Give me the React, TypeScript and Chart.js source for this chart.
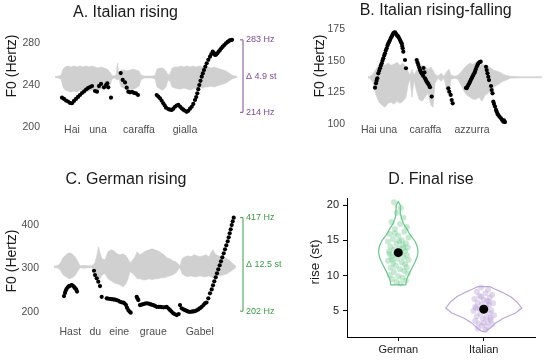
import React, { useEffect, useRef } from "react";
import { Chart, registerables } from "chart.js";
Chart.register(...registerables);

const FONT = "'Liberation Sans', Arial, Helvetica, sans-serif";
Chart.defaults.font.family = FONT;

// ---------------- Panel A: Italian rising ----------------
const A_TITLE = "A. Italian rising";
const A_TICKS = [200, 240, 280];
const A_F0: [number, number][] = [
  [0.12, 227.9], [0.14, 226.7], [0.16, 225.2], [0.18, 224.3], [0.2, 222.9], [0.22, 222.6], [0.24, 224.8],
  [0.26, 226.7], [0.28, 228.6], [0.3, 230.5], [0.32, 232.4], [0.34, 233.8], [0.36, 235.7], [0.38, 237.1],
  [0.4, 238.1], [0.42, 239], [0.45, 234.3], [0.47, 233.6], [0.49, 239], [0.51, 241], [0.54, 237.8],
  [0.56, 240], [0.573, 241.6], [0.583, 237.8], [0.61, 227.9],
  [0.707, 251.4], [0.727, 244.8], [0.75, 242.5], [0.767, 237.5], [0.783, 233.6], [0.8, 233], [0.82, 233.5],
  [0.84, 232.5], [0.86, 232], [0.88, 230.5],
  [1.067, 230.5], [1.083, 229], [1.1, 227.3], [1.117, 225], [1.133, 222.6], [1.147, 220.5], [1.16, 218.4],
  [1.183, 217.1], [1.2, 216.5], [1.217, 216.2], [1.233, 217.5], [1.25, 219.3], [1.267, 220.5], [1.283, 221],
  [1.3, 219.5], [1.317, 217.8], [1.333, 216.5], [1.35, 215.5], [1.367, 214.5], [1.383, 215.5], [1.4, 217.5],
  [1.417, 219.3], [1.433, 222], [1.45, 225.7], [1.462, 228.5], [1.473, 232.1], [1.483, 236], [1.493, 240],
  [1.505, 244], [1.517, 247.9], [1.528, 251], [1.54, 254.3], [1.553, 257.5], [1.567, 260.7], [1.583, 264],
  [1.6, 267], [1.613, 269.5], [1.627, 271.7], [1.64, 270.5], [1.65, 268.6], [1.662, 269], [1.673, 270.2],
  [1.687, 271.8], [1.7, 273.3], [1.713, 275], [1.727, 276.5], [1.743, 278], [1.76, 279.7], [1.777, 281],
  [1.793, 282.2], [1.807, 282.8], [1.82, 283]
];
const A_WAVE_T = [0.05, 0.08, 0.11, 0.13, 0.15, 0.18, 0.21, 0.24, 0.27, 0.3, 0.33, 0.36, 0.39, 0.42, 0.45, 0.48, 0.51, 0.54, 0.57, 0.6, 0.62, 0.64, 0.66, 0.675, 0.69, 0.71, 0.74, 0.77, 0.8, 0.83, 0.86, 0.89, 0.91, 0.94, 0.98, 1.02, 1.05, 1.07, 1.1, 1.13, 1.16, 1.18, 1.2, 1.22, 1.25, 1.28, 1.31, 1.34, 1.37, 1.4, 1.43, 1.46, 1.49, 1.52, 1.55, 1.58, 1.61, 1.64, 1.67, 1.7, 1.73, 1.76, 1.79, 1.82, 1.85, 1.87];
const A_WAVE_UP = [0.5, 1, 1.5, 8, 10, 11, 10, 11, 10, 11, 10, 11, 10, 11, 10, 9, 10, 9, 8, 5, 1.5, 1, 2, 14, 2, 7, 7, 6, 7, 8, 7, 6, 2, 1, 1, 1, 1.5, 8, 9, 9, 6, 2, 3, 9, 10, 10, 11, 10, 11, 10, 11, 10, 11, 10, 11, 10, 9, 10, 9, 8, 7, 6, 4, 2, 1, 0.5];
const A_WAVE_DN = [0.5, 1, 2, 10, 13, 14, 15, 14, 15, 13, 14, 15, 14, 13, 14, 13, 12, 12, 11, 8, 2, 1, 2, 3, 2, 10, 11, 12, 12, 12, 11, 9, 3, 1, 1, 1, 2, 10, 12, 13, 10, 3, 4, 10, 11, 12, 12, 11, 12, 13, 12, 11, 10, 11, 10, 10, 9, 10, 9, 8, 7, 6, 4, 2, 1, 0.5];
const A_WORDS = ["Hai", "una", "caraffa", "gialla"];
const A_WORD_T = [0.22, 0.48, 0.89, 1.35];
const A_RANGE = [214, 283];
const A_RANGE_LABELS = ["214 Hz", "Δ 4.9 st", "283 Hz"];

// ---------------- Panel B: Italian rising-falling ----------------
const B_TITLE = "B. Italian rising-falling";
const B_TICKS = [100, 125, 150, 175];
const B_F0: [number, number][] = [
  [0.2, 128.7], [0.21, 132.1], [0.216, 134.2], [0.223, 136.1], [0.233, 140], [0.242, 142], [0.25, 144],
  [0.258, 146], [0.267, 147.9], [0.275, 150], [0.283, 151.9], [0.292, 154], [0.3, 155.8], [0.308, 158],
  [0.317, 159.8], [0.325, 162], [0.333, 163.7], [0.342, 165], [0.35, 166.3], [0.358, 167.8], [0.367, 168.9],
  [0.375, 170.3], [0.383, 171.6], [0.392, 172.2], [0.4, 172.4], [0.408, 171.4], [0.417, 170.3], [0.425, 169.5],
  [0.433, 168.9], [0.442, 167.6], [0.45, 166.3], [0.458, 165], [0.467, 163.7], [0.472, 161.6], [0.477, 159.8],
  [0.483, 157.1], [0.5, 150.5], [0.51, 144],
  [0.617, 150.5], [0.625, 148.5], [0.633, 146.6], [0.642, 144.6], [0.65, 142.6], [0.658, 141.2], [0.667, 140],
  [0.675, 139], [0.683, 137.9], [0.685, 144.2], [0.695, 140.7], [0.7, 136.1], [0.708, 134.8], [0.717, 133.4],
  [0.725, 132.5], [0.733, 131.6], [0.742, 130.3], [0.75, 129], [0.767, 121.6],
  [0.933, 128.2], [0.943, 125.5], [0.957, 122.9], [0.967, 118.9], [0.977, 116.3],
  [1.11, 128.5], [1.117, 128.2], [1.125, 129.5], [1.133, 130.8], [1.142, 132], [1.15, 133.4], [1.158, 134.8],
  [1.167, 136.1], [1.175, 137.4], [1.183, 138.7], [1.192, 140], [1.2, 141.3], [1.208, 143.3], [1.217, 145.2],
  [1.225, 146.6], [1.233, 147.9], [1.245, 148.8], [1.257, 149.2],
  [1.31, 145.2], [1.317, 142.6], [1.325, 140], [1.333, 137.3], [1.34, 134.7], [1.36, 130], [1.367, 126.8],
  [1.375, 124.2], [1.383, 117.6], [1.39, 115.8], [1.4, 113.7], [1.41, 111.1], [1.417, 109.7], [1.425, 107.9],
  [1.433, 107.1], [1.445, 105.8], [1.46, 104.5], [1.47, 103.2], [1.483, 101.8], [1.49, 102.8], [1.5, 101.5]
];
const B_WAVE_T = [0.13, 0.15, 0.18, 0.21, 0.24, 0.27, 0.3, 0.33, 0.36, 0.39, 0.42, 0.45, 0.48, 0.51, 0.53, 0.55, 0.57, 0.59, 0.61, 0.64, 0.67, 0.7, 0.73, 0.76, 0.78, 0.8, 0.83, 0.86, 0.89, 0.92, 0.94, 0.96, 1.0, 1.03, 1.06, 1.09, 1.12, 1.15, 1.18, 1.21, 1.24, 1.27, 1.3, 1.33, 1.36, 1.39, 1.42, 1.45, 1.48, 1.51, 1.55, 1.65, 1.87];
const B_WAVE_UP = [0.6, 1, 3, 8, 12, 13, 12, 14, 12, 13, 15, 12, 14, 10, 6, 2, 8, 2, 6, 10, 12, 11, 8, 10, 7, 3, 1, 4, 1, 6, 8, 2, 1, 2, 5, 9, 12, 14, 13, 15, 12, 13, 12, 11, 9, 7, 6, 5, 3, 2, 1, 0.6, 0.6];
const B_WAVE_DN = [0.6, 1, 5, 18, 25, 28, 30, 26, 25, 27, 24, 26, 24, 20, 8, 2, 20, 3, 12, 22, 24, 20, 16, 28, 30, 6, 1, 4, 1, 14, 18, 2, 1, 2, 8, 14, 18, 20, 22, 22, 20, 24, 18, 16, 14, 10, 8, 6, 4, 3, 1, 0.6, 0.6];
const B_WORDS = ["Hai una", "caraffa", "azzurra"];
const B_WORD_T = [0.24, 0.705, 1.17];

// ---------------- Panel C: German rising ----------------
const C_TITLE = "C. German rising";
const C_TICKS = [200, 300, 400];
const C_F0: [number, number][] = [
  [0.14, 236.8], [0.15, 244], [0.157, 249], [0.165, 253], [0.177, 256.8], [0.19, 259.5], [0.2, 260.5],
  [0.215, 262], [0.227, 261], [0.24, 258], [0.25, 255], [0.262, 252], [0.27, 247],
  [0.44, 295], [0.45, 285], [0.467, 277.5], [0.483, 269.7], [0.5, 259.8], [0.517, 235],
  [0.567, 231.5], [0.58, 231], [0.6, 230], [0.615, 229.5], [0.633, 229], [0.65, 228.5], [0.667, 227.6],
  [0.685, 226], [0.7, 223.7], [0.715, 222.5], [0.733, 221.5], [0.745, 220], [0.76, 216], [0.77, 210],
  [0.783, 204.6], [0.795, 201], [0.807, 198.5],
  [0.867, 235], [0.875, 231], [0.883, 227.6], [0.9, 216], [0.915, 217], [0.933, 218.4], [0.95, 219.5],
  [0.967, 220], [0.985, 219.5], [1.0, 218.4], [1.015, 217], [1.033, 216], [1.05, 214], [1.067, 212],
  [1.085, 212], [1.1, 212], [1.115, 211.5], [1.133, 210.8], [1.15, 211], [1.167, 212], [1.185, 208],
  [1.2, 204.6], [1.215, 201], [1.233, 197], [1.25, 195], [1.267, 193], [1.287, 195.4],
  [1.3, 216], [1.317, 208.5], [1.335, 206], [1.35, 204.6], [1.367, 202.5], [1.383, 200.8], [1.4, 200.5],
  [1.417, 200.8], [1.433, 201.5], [1.45, 202.3], [1.467, 204], [1.483, 206], [1.5, 209], [1.517, 212],
  [1.535, 216], [1.55, 220], [1.565, 222],
  [1.583, 231.5], [1.6, 243], [1.617, 252], [1.63, 261.4], [1.643, 270.6], [1.657, 279.8], [1.67, 289],
  [1.683, 298.2], [1.697, 307.4], [1.71, 316.6], [1.723, 325.7], [1.737, 334.9], [1.75, 344.1],
  [1.763, 353.3], [1.777, 362.5], [1.787, 371.7], [1.797, 380.9], [1.807, 390.1], [1.817, 400],
  [1.827, 408.5], [1.837, 417]
];
const C_WAVE_T = [0.04, 0.07, 0.1, 0.13, 0.16, 0.19, 0.22, 0.25, 0.28, 0.3, 0.34, 0.38, 0.42, 0.45, 0.47, 0.485, 0.5, 0.52, 0.55, 0.58, 0.61, 0.64, 0.67, 0.7, 0.73, 0.76, 0.78, 0.8, 0.82, 0.85, 0.87, 0.9, 0.93, 0.96, 0.99, 1.02, 1.05, 1.08, 1.11, 1.14, 1.17, 1.2, 1.23, 1.26, 1.28, 1.3, 1.32, 1.35, 1.38, 1.41, 1.44, 1.47, 1.5, 1.53, 1.56, 1.59, 1.61, 1.63, 1.65, 1.68, 1.71, 1.74, 1.77, 1.8, 1.83, 1.86];
const C_WAVE_UP = [0.7, 1, 3, 9, 12, 14, 13, 10, 5, 1, 1.5, 1, 1, 4, 12, 20, 14, 8, 7, 15, 17, 16, 13, 12, 13, 11, 8, 4, 6, 10, 15, 12, 14, 16, 17, 18, 17, 16, 14, 12, 9, 8, 6, 5, 3, 1, 8, 10, 11, 10, 12, 11, 10, 11, 12, 10, 14, 17, 13, 11, 10, 9, 8, 6, 3, 0.7];
const C_WAVE_DN = [0.7, 1, 3, 8, 10, 12, 11, 9, 4, 1, 1.5, 1, 1, 4, 10, 18, 12, 8, 7, 12, 14, 16, 17, 18, 20, 17, 12, 5, 6, 9, 12, 12, 13, 13, 12, 13, 12, 12, 11, 11, 10, 9, 8, 6, 3, 1, 7, 9, 10, 9, 10, 10, 9, 10, 10, 9, 10, 11, 10, 9, 9, 8, 7, 5, 3, 0.7];
const C_WORDS = ["Hast", "du", "eine", "graue", "Gabel"];
const C_WORD_T = [0.203, 0.453, 0.692, 1.033, 1.497];
const C_RANGE = [202, 417];
const C_RANGE_LABELS = ["202 Hz", "Δ 12.5 st", "417 Hz"];

// ---------------- Panel D: Final rise ----------------
const D_TITLE = "D. Final rise";
const D_GROUPS = ["German", "Italian"];
const D_TICKS = [5, 10, 15, 20];
const D_MEANS = [13.25, 5.25];
const GER_VIOLIN_Y = [8.7, 9.4, 10.0, 10.6, 11.3, 12.0, 12.7, 13.4, 14.1, 14.8, 15.5, 16.1, 16.7, 17.3, 18.0, 18.6, 19.4, 20.0, 20.5];
const GER_VIOLIN_W = [0.088, 0.097, 0.117, 0.14, 0.17, 0.199, 0.222, 0.231, 0.222, 0.199, 0.158, 0.123, 0.097, 0.064, 0.041, 0.029, 0.026, 0.021, 0.0];
const ITA_VIOLIN_Y = [2.1, 2.5, 3.3, 4.0, 4.7, 5.4, 6.3, 7.0, 7.7, 8.1, 8.44];
const ITA_VIOLIN_W = [0.023, 0.07, 0.14, 0.234, 0.374, 0.445, 0.386, 0.316, 0.205, 0.129, 0.07];
const GER_JITTER: [number, number][] = [
  [-0.05, 20.4], [0.03, 19.6], [-0.02, 18.9], [0.06, 18.2], [-0.08, 17.6], [0.02, 17.3], [0.1, 16.9],
  [-0.04, 16.6], [0.07, 16.2], [-0.1, 15.9], [0.0, 15.7], [0.12, 15.4], [-0.06, 15.2], [0.04, 15.0],
  [-0.12, 14.8], [0.09, 14.6], [-0.02, 14.5], [0.05, 14.3], [-0.09, 14.1], [0.11, 14.0], [0.01, 13.8],
  [-0.05, 13.7], [0.08, 13.5], [-0.11, 13.4], [0.03, 13.2], [-0.03, 13.0], [0.1, 12.9], [-0.08, 12.7],
  [0.06, 12.6], [-0.01, 12.4], [0.12, 12.2], [-0.12, 12.1], [0.04, 11.9], [-0.06, 11.8], [0.08, 11.6],
  [-0.03, 11.4], [0.1, 11.2], [-0.09, 11.1], [0.02, 10.9], [0.07, 10.7], [-0.05, 10.5], [0.11, 10.3],
  [-0.1, 10.1], [0.0, 9.9], [0.05, 9.7], [-0.07, 9.5], [0.09, 9.3], [-0.02, 9.1], [0.03, 8.9],
  [-0.04, 16.0], [0.06, 13.9], [-0.07, 12.3], [0.01, 14.9], [-0.1, 13.1]
];
const ITA_JITTER: [number, number][] = [
  [-0.03, 8.3], [0.05, 8.0], [-0.08, 7.7], [0.02, 7.5], [0.1, 7.3], [-0.05, 7.1], [0.07, 6.9],
  [-0.11, 6.7], [0.0, 6.6], [0.04, 6.4], [-0.07, 6.2], [0.11, 6.1], [-0.02, 5.9], [0.06, 5.8],
  [-0.1, 5.6], [0.03, 5.5], [-0.05, 5.3], [0.09, 5.1], [-0.12, 5.0], [0.01, 4.9], [0.07, 4.7],
  [-0.04, 4.6], [0.12, 4.4], [-0.08, 4.2], [0.03, 4.1], [-0.01, 3.9], [0.08, 3.7], [-0.1, 3.6],
  [0.05, 3.4], [-0.06, 3.2], [0.1, 3.1], [-0.02, 2.9], [0.04, 2.7], [-0.07, 2.5], [0.02, 2.3],
  [0.06, 6.3], [-0.09, 5.4], [0.08, 4.0], [-0.03, 7.0], [0.0, 3.3]
];

// ---------------- helpers ----------------
type Decor = {
  yTitle: string; yTitleX: number; yTitleY: number; yTitleSize: number;
  words?: string[]; wordT?: number[]; wordLevel?: number;
  range?: number[]; rangeLabels?: string[]; rangeColor?: string;
};

function decorPlugin(o: Decor) {
  return {
    id: "decor",
    afterDraw(chart: any) {
      const { ctx, chartArea, scales } = chart;
      const x = scales.x, y = scales.y;
      ctx.save();
      ctx.fillStyle = "#1a1a1a";
      ctx.font = `${o.yTitleSize}px ${FONT}`;
      ctx.translate(o.yTitleX, o.yTitleY);
      ctx.rotate(-Math.PI / 2);
      ctx.textAlign = "center";
      ctx.textBaseline = "middle";
      ctx.fillText(o.yTitle, 0, 0);
      ctx.restore();
      if (o.words && o.wordT && o.wordLevel !== undefined) {
        ctx.save();
        ctx.fillStyle = "#4d4d4d";
        ctx.font = `10.5px ${FONT}`;
        ctx.textAlign = "center";
        ctx.textBaseline = "middle";
        const py = y.getPixelForValue(o.wordLevel);
        o.words.forEach((w, i) => ctx.fillText(w, x.getPixelForValue(o.wordT![i]), py));
        ctx.restore();
      }
      if (o.range && o.rangeLabels) {
        const bx = chartArea.right + 3;
        const y0 = y.getPixelForValue(o.range[0]);
        const y1 = y.getPixelForValue(o.range[1]);
        ctx.save();
        ctx.strokeStyle = o.rangeColor;
        ctx.fillStyle = o.rangeColor;
        ctx.lineWidth = 1;
        ctx.beginPath();
        ctx.moveTo(bx - 3, y1); ctx.lineTo(bx, y1); ctx.lineTo(bx, y0); ctx.lineTo(bx - 3, y0);
        ctx.stroke();
        ctx.font = `9px ${FONT}`;
        ctx.textAlign = "left";
        ctx.textBaseline = "middle";
        ctx.fillText(o.rangeLabels[0], bx + 3, y0);
        ctx.fillText(o.rangeLabels[1], bx + 3, (y0 + y1) / 2);
        ctx.fillText(o.rangeLabels[2], bx + 3, y1);
        ctx.restore();
      }
    }
  };
}

type Pitch = {
  title: string; titlePadTop: number; titlePadBottom: number;
  padLeft: number; padRight: number; padBottom: number; yWidth: number; tickPad: number;
  yMin: number; yMax: number; xMax: number; ticks: number[];
  f0: [number, number][]; waveT: number[]; waveUp: number[]; waveDn: number[]; waveC: number; waveK: number;
  decor: Decor;
};

function pitchConfig(p: Pitch): any {
  const upper = p.waveT.map((t, i) => ({ x: t, y: p.waveC + p.waveUp[i] * p.waveK }));
  const lower = p.waveT.map((t, i) => ({ x: t, y: p.waveC - p.waveDn[i] * p.waveK }));
  return {
    type: "scatter",
    data: {
      datasets: [
        { type: "line", data: upper, borderWidth: 0.6, borderColor: "#D0D0D0", pointRadius: 0, fill: "+1", backgroundColor: "#D0D0D0", order: 3, tension: 0 },
        { type: "line", data: lower, borderWidth: 0.6, borderColor: "#D0D0D0", pointRadius: 0, fill: false, order: 3, tension: 0 },
        { type: "scatter", data: p.f0.map(([t, h]) => ({ x: t, y: h })), pointRadius: 2.1, backgroundColor: "#000", borderWidth: 0, order: 1, clip: false }
      ]
    },
    options: {
      animation: false, responsive: false, events: [],
      layout: { padding: { left: p.padLeft, right: p.padRight, top: 0, bottom: p.padBottom } },
      plugins: {
        legend: { display: false }, tooltip: { enabled: false },
        title: { display: true, text: p.title, color: "#1a1a1a", font: { size: 16, weight: "normal", family: FONT }, padding: { top: p.titlePadTop, bottom: p.titlePadBottom } }
      },
      scales: {
        x: { type: "linear", min: 0, max: p.xMax, display: false },
        y: {
          type: "linear", min: p.yMin, max: p.yMax,
          afterBuildTicks: (s: any) => { s.ticks = p.ticks.map((v) => ({ value: v })); },
          afterFit: (s: any) => { s.width = p.yWidth; },
          grid: { display: false, drawTicks: false, tickLength: 0 },
          border: { display: false },
          ticks: { font: { size: 10.5, family: FONT }, color: "#4d4d4d", padding: p.tickPad }
        }
      }
    },
    plugins: [decorPlugin(p.decor)]
  };
}

function violinOutline(center: number, ys: number[], ws: number[]) {
  const right = ys.map((y, i) => ({ x: center + ws[i], y }));
  const left = ys.map((y, i) => ({ x: center - ws[i], y })).reverse();
  return [...right, ...left, right[0]];
}

function finalRiseConfig(): any {
  const axisGrid = { display: true, drawOnChartArea: false, drawTicks: true, tickLength: 4, color: "#000", lineWidth: 1 };
  const axisBorder = { display: true, color: "#000", width: 1 };
  return {
    type: "scatter",
    data: {
      datasets: [
        { type: "scatter", showLine: true, data: violinOutline(1, GER_VIOLIN_Y, GER_VIOLIN_W), borderColor: "#6CC48E", borderWidth: 1.2, pointRadius: 0, fill: false, tension: 0, order: 4, clip: false },
        { type: "scatter", showLine: true, data: violinOutline(2, ITA_VIOLIN_Y, ITA_VIOLIN_W), borderColor: "#BDA7D8", borderWidth: 1.2, pointRadius: 0, fill: false, tension: 0, order: 4, clip: false },
        { type: "scatter", data: GER_JITTER.map(([dx, v]) => ({ x: 1 + dx, y: v })), pointRadius: 3, backgroundColor: "rgba(98,196,132,0.35)", borderWidth: 0, order: 3 },
        { type: "scatter", data: ITA_JITTER.map(([dx, v]) => ({ x: 2 + dx, y: v })), pointRadius: 3, backgroundColor: "rgba(186,160,216,0.4)", borderWidth: 0, order: 3 },
        { type: "scatter", data: D_MEANS.map((m, i) => ({ x: i + 1, y: m })), pointRadius: 4.5, backgroundColor: "#000", borderWidth: 0, order: 1 }
      ]
    },
    options: {
      animation: false, responsive: false, events: [],
      layout: { padding: { left: 52, right: 15, top: 0, bottom: 3 } },
      plugins: {
        legend: { display: false }, tooltip: { enabled: false },
        title: { display: true, text: D_TITLE, color: "#1a1a1a", font: { size: 16, weight: "normal", family: FONT }, padding: { top: 0, bottom: 8.8 } }
      },
      scales: {
        x: {
          type: "linear", min: 0.4, max: 2.6,
          afterBuildTicks: (s: any) => { s.ticks = D_GROUPS.map((_, i) => ({ value: i + 1 })); },
          afterFit: (s: any) => { s.height = 20; },
          grid: axisGrid, border: axisBorder,
          ticks: { callback: (v: any) => D_GROUPS[Math.round(v) - 1], font: { size: 11, family: FONT }, color: "#1a1a1a", padding: 2, maxRotation: 0, autoSkip: false }
        },
        y: {
          type: "linear", min: 1.3, max: 21,
          afterBuildTicks: (s: any) => { s.ticks = D_TICKS.map((v) => ({ value: v })); },
          afterFit: (s: any) => { s.width = 20; },
          grid: axisGrid, border: axisBorder,
          ticks: { font: { size: 11, family: FONT }, color: "#1a1a1a", padding: 4 }
        }
      }
    },
    plugins: [decorPlugin({ yTitle: "rise (st)", yTitleX: 40, yTitleY: 92, yTitleSize: 13.5 })]
  };
}

function ChartBox(props: { left: number; top: number; width: number; height: number; make: () => any }) {
  const ref = useRef<HTMLCanvasElement>(null);
  useEffect(() => {
    const chart = new Chart(ref.current as HTMLCanvasElement, props.make());
    return () => chart.destroy();
  }, []);
  const { left, top, width, height } = props;
  return (
    <div style={{ position: "absolute", left, top, width, height }}>
      <canvas ref={ref} width={width} height={height} style={{ display: "block", width, height }} />
    </div>
  );
}

export default function App() {
  const makeA = () => pitchConfig({
    title: A_TITLE, titlePadTop: 3, titlePadBottom: 10.3, padLeft: 11, padRight: 50, padBottom: 27.25,
    yWidth: 39, tickPad: 10, yMin: 185, yMax: 290, xMax: 1.9, ticks: A_TICKS,
    f0: A_F0, waveT: A_WAVE_T, waveUp: A_WAVE_UP, waveDn: A_WAVE_DN, waveC: 247.6, waveK: 0.95,
    decor: { yTitle: "F0 (Hertz)", yTitleX: 12, yTitleY: 66, yTitleSize: 14, words: A_WORDS, wordT: A_WORD_T, wordLevel: 197, range: A_RANGE, rangeLabels: A_RANGE_LABELS, rangeColor: "#7E4A93" }
  });
  const makeB = () => pitchConfig({
    title: B_TITLE, titlePadTop: 1.4, titlePadBottom: 8.4, padLeft: 51.4, padRight: 5, padBottom: 35.9,
    yWidth: 28.6, tickPad: 10, yMin: 92, yMax: 175, xMax: 1.9, ticks: B_TICKS,
    f0: B_F0, waveT: B_WAVE_T, waveUp: B_WAVE_UP, waveDn: B_WAVE_DN, waveC: 136.9, waveK: 0.79,
    decor: { yTitle: "F0 (Hertz)", yTitleX: 45, yTitleY: 66, yTitleSize: 14, words: B_WORDS, wordT: B_WORD_T, wordLevel: 95.3 }
  });
  const makeC = () => pitchConfig({
    title: C_TITLE, titlePadTop: 0, titlePadBottom: 22.8, padLeft: 12, padRight: 50, padBottom: 21.85,
    yWidth: 38, tickPad: 11, yMin: 140, yMax: 430, xMax: 1.9, ticks: C_TICKS,
    f0: C_F0, waveT: C_WAVE_T, waveUp: C_WAVE_UP, waveDn: C_WAVE_DN, waveC: 304, waveK: 2.3,
    decor: { yTitle: "F0 (Hertz)", yTitleX: 12, yTitleY: 91, yTitleSize: 14, words: C_WORDS, wordT: C_WORD_T, wordLevel: 154, range: C_RANGE, rangeLabels: C_RANGE_LABELS, rangeColor: "#3C9A4A" }
  });
  return (
    <div style={{ position: "absolute", left: 0, top: 0, width: 550, height: 360, background: "#fff" }}>
      <ChartBox left={0} top={0} width={290} height={170} make={makeA} />
      <ChartBox left={275} top={0} width={275} height={170} make={makeB} />
      <ChartBox left={0} top={170} width={290} height={190} make={makeC} />
      <ChartBox left={275} top={170} width={275} height={190} make={finalRiseConfig} />
    </div>
  );
}
